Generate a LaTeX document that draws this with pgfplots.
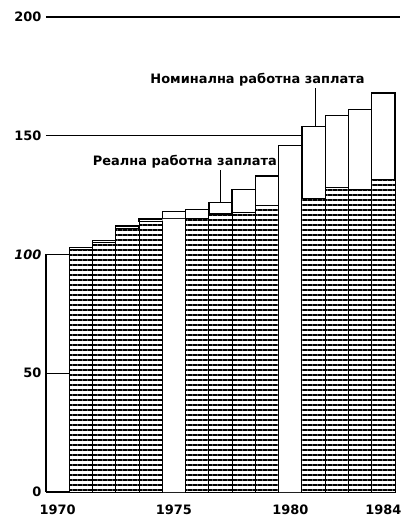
\documentclass[border=0pt]{standalone}
\usepackage{fontspec}
\setmainfont{DejaVu Sans}
\usepackage{pgfplots}
\pgfplotsset{compat=1.18}
\usetikzlibrary{patterns.meta}

% index 1970 = 100
% years, real wage split into hatched / white columns, and nominal - real on top
\pgfplotstableread{
year hatch white open diff
1970 0     0     100   0
1971 102   0     0     1
1972 105   0     0     1
1973 111   0     0     1
1974 114   0     0     1
1975 0     115   0     3
1976 115   0     0     4
1977 117   0     0     5
1978 117.5 0     0     10
1979 120.5 0     0     12.5
1980 0     119.5 0     26.5
1981 123.5 0     0     30.5
1982 128   0     0     30.5
1983 127.5 0     0     33.5
1984 131.5 0     0     36.5
}\wages

\begin{document}
\begin{tikzpicture}
\begin{axis}[
    name=ax,
    scale only axis,
    width=349bp, height=475bp,
    xmin=1969.5, xmax=1984.5,
    ymin=0, ymax=200,
    ybar stacked,
    bar width=1,
    axis line style={draw=none},
    major tick length=0,
    xtick={1970,1975,1980,1984},
    ytick={0,50,100,150,200},
    yticklabels={0,50,\textit{100},150,200},
    xticklabel style={/pgf/number format/1000 sep=, yshift=-9bp},
    yticklabel style={xshift=-1bp},
    tick label style={font=\fontsize{13}{15}\selectfont\bfseries},
    /pgf/number format/assume math mode=true,
    ymajorgrids,
    grid style={black, line width=1.1pt},
    clip=false,
]
\addplot[preaction={fill=white}, pattern={Lines[angle=0, distance=5bp, line width=2bp]},
    draw=black, line width=1pt] table[x=year, y=hatch] {\wages};
\addplot[fill=white, draw=none] table[x=year, y=white] {\wages};
\addplot[fill=none, draw=none] table[x=year, y=open] {\wages};
\addplot[fill=white, draw=black, line width=1.3pt] table[x=year, y=diff] {\wages};
\addplot[stack plots=false, sharp plot, black, line width=1.3pt, forget plot]
    coordinates {(1969.5,0) (1969.5,100)};
% the 200 line runs a little past the last bar
\addplot[stack plots=false, sharp plot, black, line width=1.1pt, forget plot]
    coordinates {(1984.5,200) (1984.7,200)};

\draw[line width=0.8pt] (axis cs:1977,117) -- (axis cs:1977,135.5);
\node[font=\fontsize{13}{15}\selectfont\bfseries, anchor=south] at (axis cs:1975.47,135) {Реална работна заплата};
\draw[line width=0.8pt] (axis cs:1981.1,154) -- (axis cs:1981.1,170);
\node[font=\fontsize{13}{15}\selectfont\bfseries, anchor=south] at (axis cs:1978.59,169.5) {Номинална работна заплата};
\end{axis}
\path ([shift={(-46bp,-28bp)}]ax.south west) rectangle ([shift={(359bp,492bp)}]ax.south west);
\end{tikzpicture}
\end{document}
